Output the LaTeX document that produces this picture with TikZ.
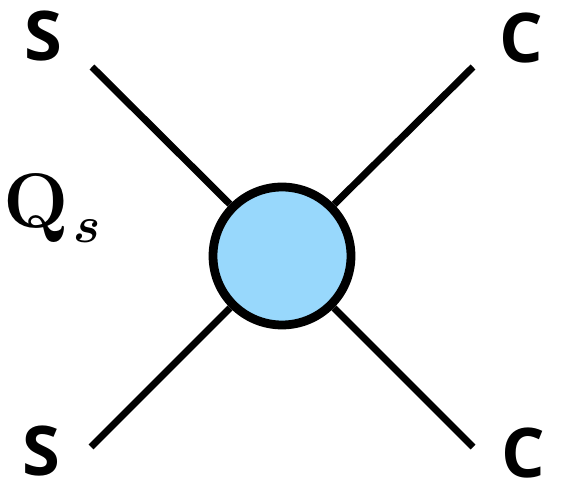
\RequirePackage{fix-cm}
\documentclass[tikz,border=0pt]{standalone}
\usepackage{fontspec}
\setsansfont{Open Sans}
\newcommand{\boldital}{\fontencoding{OML}\fontfamily{cmm}\fontseries{b}\fontshape{it}\fontsize{29}{32}\selectfont}
\definecolor{blobblue}{RGB}{152,216,252}
\begin{document}
\begin{tikzpicture}[x=0.02cm,y=-0.02cm,
    leg/.style={line width=4pt},
    quark/.style={font=\sffamily\bfseries\fontsize{39}{44}\selectfont, inner sep=0pt}]
    \useasboundingbox (0,0) rectangle (568,482);

    \coordinate (tl) at (92,67);
    \coordinate (tr) at (473,67);
    \coordinate (bl) at (91,447);
    \coordinate (br) at (473,447);

    \node[circle, draw, line width=5pt, fill=blobblue, minimum size=2.76cm, inner sep=0pt] (blob) at (282,256) {};

    \draw[leg] (tl) -- (blob);
    \draw[leg] (tr) -- (blob);
    \draw[leg] (bl) -- (blob);
    \draw[leg] (br) -- (blob);

    \node[quark] (s1) at (43,36) {S};
    \node[quark] (c1) at (521,38) {C};
    \node[quark] (s2) at (41,451) {S};
    \node[quark] (c2) at (523,453) {C};

    \node[inner sep=0pt, anchor=base west, font=\bfseries\fontsize{44}{50}\selectfont] (qs) at (3,228) {Q\kern3pt\raisebox{-8.5pt}{\boldital s}};
\end{tikzpicture}
\end{document}
